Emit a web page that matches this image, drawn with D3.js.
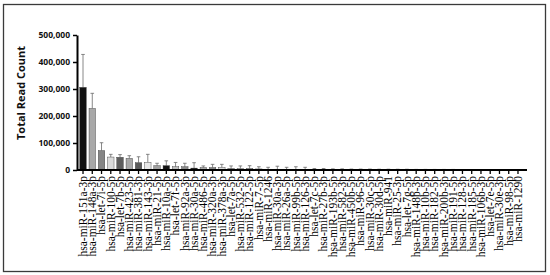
<!DOCTYPE html>
<html>
<head>
<meta charset="utf-8">
<script src="https://cdn.jsdelivr.net/npm/d3@7"></script>
<style>
  body { margin: 0; background: #fff; }
  svg { display: block; }
</style>
</head>
<body>
<svg id="chart" width="550" height="275"></svg>
<script>
// miRNA names, in plotted order
const mirnas = [
  "hsa-miR-151a-3p", "hsa-miR-148a-3p", "hsa-let-7i-5p", "hsa-miR-100-5p",
  "hsa-let-7b-5p", "hsa-miR-423-5p", "hsa-miR-381-3p", "hsa-miR-143-3p",
  "hsa-miR-21-5p", "hsa-miR-10a-5p", "hsa-let-7f-5p", "hsa-miR-92a-3p",
  "hsa-miR-30a-5p", "hsa-miR-486-5p", "hsa-miR-320a-3p", "hsa-miR-378a-3p",
  "hsa-let-7a-5p", "hsa-miR-532-5p", "hsa-miR-122-5p", "hsa-miR-7-5p",
  "hsa-miR-1246", "hsa-miR-30a-3p", "hsa-miR-26a-5p", "hsa-miR-99b-5p",
  "hsa-miR-126-3p", "hsa-let-7c-5p", "hsa-miR-27b-3p", "hsa-miR-193b-5p",
  "hsa-miR-582-3p", "hsa-miR-450b-5p", "hsa-miR-96-5p", "hsa-miR-30c-5p",
  "hsa-miR-30d-5p", "hsa-miR-941", "hsa-miR-25-3p", "hsa-let-7g-5p",
  "hsa-miR-148b-3p", "hsa-miR-10b-5p", "hsa-miR-182-5p", "hsa-miR-200b-3p",
  "hsa-miR-191-5p", "hsa-miR-128-3p", "hsa-miR-185-5p", "hsa-miR-106b-3p",
  "hsa-let-7e-5p", "hsa-miR-30e-3p", "hsa-miR-98-5p", "hsa-miR-1290"
]

// mean read counts
const means = [
  306000, 228000, 72000, 48000, 47000, 43000, 27000, 28000,
  16000, 16000, 12000, 12000, 7000, 9000, 9000, 9000,
  5000, 5000, 5000, 4000, 3000, 3000, 3000, 2000,
  2000, 1500, 1500, 1200, 1200, 1000, 1000, 1000,
  900, 900, 800, 800, 700, 700, 600, 600,
  600, 500, 500, 500, 400, 400, 400, 300
]

// upper error (SD) added on top of each mean
const errors = [
  122000, 56000, 29000, 10000, 10000, 10000, 22000, 30000,
  9000, 18000, 16000, 13000, 20000, 6000, 12000, 12000,
  10000, 10000, 11000, 8000, 7000, 11000, 7000, 10000,
  8000, 4000, 4000, 3000, 3000, 2500, 2500, 2500,
  2000, 2000, 2000, 2000, 1500, 1500, 1500, 1500,
  1500, 1200, 1200, 1200, 1000, 1000, 1000, 1000
]

const yTicks = [0, 100000, 200000, 300000, 400000, 500000]

// grey fills, cycled along the bars
const greys = [
  "#111111", "#a8a8a8", "#858585", "#dadada", "#5e5e5e", "#a8a8a8",
  "#5a5a5a", "#e8e8e8", "#a0a0a0", "#111111", "#bdbdbd", "#8a8a8a"
]

const svg = d3.select("#chart")

// outer frame
svg.append("rect")
  .attr("x", 3.5).attr("y", 4.5)
  .attr("width", 542).attr("height", 267)
  .attr("fill", "none")
  .attr("stroke", "#3a3a3a")
  .attr("stroke-width", 1.3)

const x = d3.scaleBand()
  .domain(mirnas)
  .range([77, 524])
  .paddingInner(0.3)
  .paddingOuter(0.3)

const y = d3.scaleLinear()
  .domain([0, 500000])
  .range([170, 35])

const data = mirnas.map((name, i) => ({name, mean: means[i], err: errors[i], i}))

// error bars (upper only)
const eb = svg.append("g").attr("stroke", "#6a6a6a").attr("stroke-width", 0.8)
eb.selectAll("line.v")
  .data(data)
  .join("line")
  .attr("class", "v")
  .attr("x1", d => x(d.name) + x.bandwidth() / 2)
  .attr("x2", d => x(d.name) + x.bandwidth() / 2)
  .attr("y1", d => y(d.mean))
  .attr("y2", d => y(d.mean + d.err))
eb.selectAll("line.cap")
  .data(data)
  .join("line")
  .attr("class", "cap")
  .attr("x1", d => x(d.name) + x.bandwidth() / 2 - 1.8)
  .attr("x2", d => x(d.name) + x.bandwidth() / 2 + 1.8)
  .attr("y1", d => y(d.mean + d.err))
  .attr("y2", d => y(d.mean + d.err))

svg.append("g")
  .selectAll("rect")
  .data(data)
  .join("rect")
  .attr("x", d => x(d.name))
  .attr("y", d => y(d.mean))
  .attr("width", x.bandwidth())
  .attr("height", d => y(0) - y(d.mean))
  .attr("fill", d => greys[d.i % greys.length])
  .attr("stroke", "#333")
  .attr("stroke-width", 0.4)

// y axis
const yAxis = svg.append("g")
  .attr("transform", "translate(77,0)")
  .call(d3.axisLeft(y).tickValues(yTicks).tickSize(4).tickSizeOuter(0)
    .tickFormat(d3.format(",")))
yAxis.select(".domain").attr("stroke", "#000").attr("stroke-width", 2)
yAxis.selectAll(".tick line").attr("stroke", "#000").attr("stroke-width", 1.5)
yAxis.selectAll(".tick text")
  .attr("x", -7)
  .attr("font-family", "'Open Sans', sans-serif")
  .attr("font-weight", "bold")
  .attr("font-size", 8.5)
  .attr("fill", "#111")

// x axis
const xAxis = svg.append("g")
  .attr("transform", "translate(0,170)")
  .call(d3.axisBottom(x).tickSize(4).tickSizeOuter(0))
xAxis.select(".domain")
  .attr("d", "M77,0H527")
  .attr("stroke", "#000").attr("stroke-width", 2)
xAxis.selectAll(".tick line").attr("stroke", "#000").attr("stroke-width", 1.3)
xAxis.selectAll(".tick text")
  .attr("transform", "rotate(-90)")
  .attr("x", -6)
  .attr("y", 0)
  .attr("dy", "0.33em")
  .attr("text-anchor", "end")
  .attr("font-family", "'Liberation Serif', 'Times New Roman', serif")
  .attr("font-size", 11.5)
  .attr("fill", "#000")

// y title
svg.append("text")
  .attr("transform", "translate(25,93) rotate(-90)")
  .attr("text-anchor", "middle")
  .attr("font-family", "'Open Sans', sans-serif")
  .attr("font-weight", "bold")
  .attr("font-size", 11)
  .attr("fill", "#111")
  .text("Total Read Count")
</script>
</body>
</html>
